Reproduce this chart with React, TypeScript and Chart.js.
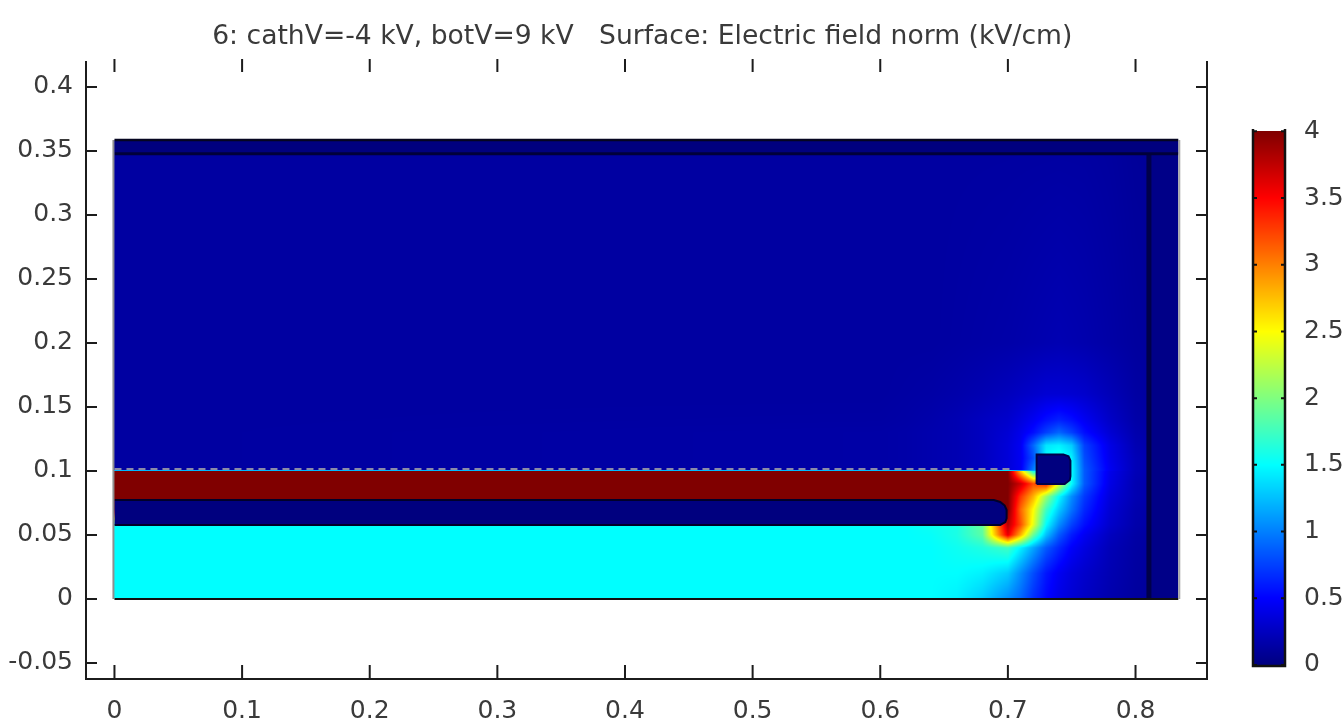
import React, { useEffect, useRef } from "react";
import { Chart, registerables } from "chart.js";

Chart.register(...registerables);

const titleText = "6: cathV=-4 kV, botV=9 kV   Surface: Electric field norm (kV/cm) ";
const xTicks = [0, 0.1, 0.2, 0.3, 0.4, 0.5, 0.6, 0.7, 0.8];
const yTicks = [-0.05, 0, 0.05, 0.1, 0.15, 0.2, 0.25, 0.3, 0.35, 0.4];
const barTicks = [0, 0.5, 1, 1.5, 2, 2.5, 3, 3.5, 4];

// Field norm (kV/cm) at these nodes
const fieldX = [0, 0.6, 0.62, 0.64, 0.66, 0.68, 0.7, 0.71, 0.72, 0.73, 0.74, 0.75, 0.76, 0.78, 0.8, 0.835];
const fieldY = [0, 0.02, 0.04, 0.05, 0.058, 0.07, 0.08, 0.09, 0.1, 0.1005, 0.11, 0.12, 0.13, 0.14, 0.16, 0.2, 0.36];
const fieldRows = [
  [1.5, 1.5, 1.5, 1.5, 1.45, 1.3, 1.05, 0.9, 0.68, 0.52, 0.4, 0.33, 0.27, 0.18, 0.12, 0.08],
  [1.5, 1.5, 1.5, 1.5, 1.5, 1.45, 1.3, 1.05, 0.8, 0.58, 0.45, 0.36, 0.3, 0.2, 0.13, 0.08],
  [1.5, 1.5, 1.5, 1.5, 1.55, 1.62, 1.75, 1.45, 1.15, 0.85, 0.65, 0.48, 0.38, 0.22, 0.14, 0.09],
  [1.5, 1.5, 1.5, 1.52, 1.6, 1.85, 3.6, 2.8, 1.9, 1.25, 0.85, 0.6, 0.45, 0.25, 0.15, 0.09],
  [1.5, 1.5, 1.5, 1.55, 1.6, 1.9, 3.8, 3.2, 2.4, 1.5, 1.05, 0.75, 0.55, 0.3, 0.17, 0.1],
  [4, 4, 4, 4, 4, 4, 4, 3.1, 2.5, 1.75, 1.3, 0.95, 0.65, 0.33, 0.18, 0.1],
  [4, 4, 4, 4, 4, 4, 4, 3.3, 2.8, 2.1, 1.5, 1.05, 0.72, 0.36, 0.2, 0.1],
  [4, 4, 4, 4, 4, 4, 4, 3.7, 3.2, 3.4, 2.4, 1.5, 0.85, 0.4, 0.2, 0.1],
  [4, 4, 4, 4, 4, 4, 4, 2.7, 1.5, 1.6, 1.6, 1.5, 0.85, 0.42, 0.22, 0.1],
  [0.13, 0.15, 0.16, 0.18, 0.2, 0.25, 0.35, 0.45, 1.0, 1.6, 1.6, 1.5, 0.85, 0.45, 0.22, 0.1],
  [0.13, 0.15, 0.16, 0.18, 0.2, 0.25, 0.35, 0.45, 0.8, 1.5, 1.6, 1.45, 0.8, 0.42, 0.22, 0.1],
  [0.13, 0.15, 0.16, 0.18, 0.2, 0.25, 0.35, 0.45, 0.9, 1.4, 1.45, 1.3, 0.75, 0.4, 0.2, 0.1],
  [0.13, 0.15, 0.16, 0.18, 0.2, 0.25, 0.33, 0.42, 0.55, 0.75, 0.9, 0.75, 0.55, 0.33, 0.18, 0.1],
  [0.13, 0.14, 0.15, 0.17, 0.2, 0.25, 0.3, 0.37, 0.45, 0.55, 0.62, 0.55, 0.45, 0.28, 0.16, 0.1],
  [0.13, 0.13, 0.14, 0.15, 0.17, 0.2, 0.24, 0.27, 0.3, 0.33, 0.33, 0.32, 0.3, 0.22, 0.14, 0.1],
  [0.13, 0.13, 0.13, 0.13, 0.14, 0.15, 0.16, 0.17, 0.18, 0.19, 0.2, 0.19, 0.18, 0.15, 0.12, 0.1],
  [0.13, 0.13, 0.13, 0.13, 0.13, 0.13, 0.13, 0.13, 0.13, 0.13, 0.13, 0.13, 0.13, 0.12, 0.1, 0.09],
];

// Geometry of the model, in plot units
const domainRight = 0.8335;
const domainTop = 0.3586;
const gapOutline = [
  { x: 0, y: 0.0578 }, { x: 0.694, y: 0.0578 }, { x: 0.698, y: 0.06 }, { x: 0.699, y: 0.063 },
  { x: 0.699, y: 0.0695 }, { x: 0.6975, y: 0.073 }, { x: 0.694, y: 0.0758 }, { x: 0.689, y: 0.0773 },
  { x: 0, y: 0.0773 },
];
const gapShape = [...gapOutline, { x: 0, y: 0.0578 }];
const wireShape = [
  { x: 0.7225, y: 0.0898 }, { x: 0.7445, y: 0.0898 }, { x: 0.7485, y: 0.093 }, { x: 0.749, y: 0.096 },
  { x: 0.749, y: 0.108 }, { x: 0.7475, y: 0.1115 }, { x: 0.7435, y: 0.1128 }, { x: 0.7225, y: 0.1128 },
  { x: 0.7225, y: 0.0898 },
];
const topBand = [
  { x: 0, y: 0.3477 }, { x: domainRight, y: 0.3477 }, { x: domainRight, y: domainTop }, { x: 0, y: domainTop }, { x: 0, y: 0.3477 },
];
const sideBand = [
  { x: 0.8105, y: 0 }, { x: domainRight, y: 0 }, { x: domainRight, y: domainTop }, { x: 0.8105, y: domainTop }, { x: 0.8105, y: 0 },
];
const sideLine = [{ x: 0.8105, y: 0 }, { x: 0.8105, y: 0.3477 }];
const topLines = [{ x: 0, y: domainTop }, { x: domainRight, y: domainTop }];
const bandLine = [{ x: 0, y: 0.3477 }, { x: domainRight, y: 0.3477 }];
const bottomLine = [{ x: 0, y: 0 }, { x: domainRight, y: 0 }];
const leftEdge = [{ x: -0.0008, y: 0 }, { x: -0.0008, y: domainTop }];
const rightEdge = [{ x: domainRight + 0.0008, y: 0 }, { x: domainRight + 0.0008, y: domainTop }];
const dashedEdge = [{ x: 0, y: 0.1015 }, { x: 0.705, y: 0.1015 }];

const TICK_FONT = { family: "'DejaVu Sans'", size: 25 };
const TITLE_FONT = { family: "'DejaVu Sans'", size: 26.6, weight: "normal" };
const TEXT = "#3a3a3a";
const LINE = "#1c1c1c";

const clamp = (v: number) => Math.max(0, Math.min(1, v));
function jet(v: number): [number, number, number] {
  const t = clamp(v / 4);
  return [
    255 * clamp(1.5 - Math.abs(4 * t - 3)),
    255 * clamp(1.5 - Math.abs(4 * t - 2)),
    255 * clamp(1.5 - Math.abs(4 * t - 1)),
  ];
}
function locate(nodes: number[], v: number) {
  let i = 0;
  while (i < nodes.length - 2 && v > nodes[i + 1]) i++;
  return [i, clamp((v - nodes[i]) / (nodes[i + 1] - nodes[i]))];
}
function fieldAt(x: number, y: number) {
  const [i, u] = locate(fieldX, x);
  const [j, w] = locate(fieldY, y);
  const a = fieldRows[j][i] * (1 - u) + fieldRows[j][i + 1] * u;
  const b = fieldRows[j + 1][i] * (1 - u) + fieldRows[j + 1][i + 1] * u;
  return a * (1 - w) + b * w;
}

const fieldPlugin = {
  id: "fieldSurface",
  beforeDatasetsDraw(chart: any) {
    const { x, y } = chart.scales;
    const x0 = Math.round(x.getPixelForValue(0));
    const x1 = Math.round(x.getPixelForValue(domainRight));
    const y0 = Math.round(y.getPixelForValue(domainTop));
    const y1 = Math.round(y.getPixelForValue(0));
    const w = x1 - x0;
    const h = y1 - y0;
    const img = chart.ctx.createImageData(w, h);
    for (let r = 0; r < h; r++) {
      const vy = y.getValueForPixel(y0 + r + 0.5);
      for (let c = 0; c < w; c++) {
        const [R, G, B] = jet(fieldAt(x.getValueForPixel(x0 + c + 0.5), vy));
        const k = (r * w + c) * 4;
        img.data[k] = R;
        img.data[k + 1] = G;
        img.data[k + 2] = B;
        img.data[k + 3] = 255;
      }
    }
    chart.ctx.putImageData(img, x0, y0);
  },
  afterDraw(chart: any) {
    const { ctx, chartArea } = chart;
    const { x, y, cb } = chart.scales;
    ctx.save();
    ctx.strokeStyle = LINE;
    ctx.lineWidth = 2;
    // inward tick marks on all four sides of the frame
    ctx.beginPath();
    for (const t of x.ticks) {
      const px = x.getPixelForValue(t.value);
      ctx.moveTo(px, chartArea.bottom);
      ctx.lineTo(px, chartArea.bottom - 14);
      ctx.moveTo(px, chartArea.top - 3);
      ctx.lineTo(px, chartArea.top + 10);
    }
    for (const t of y.ticks) {
      const py = y.getPixelForValue(t.value);
      ctx.moveTo(chartArea.left, py);
      ctx.lineTo(chartArea.left + 11, py);
      ctx.moveTo(chartArea.right, py);
      ctx.lineTo(chartArea.right - 11, py);
    }
    ctx.stroke();
    // colour bar, coloured through its own scale
    const left = chartArea.right + 47;
    const right = chartArea.right + 77;
    const top = Math.round(cb.getPixelForValue(4));
    const bottom = Math.round(cb.getPixelForValue(0));
    for (let p = top; p < bottom; p++) {
      const [R, G, B] = jet(cb.getValueForPixel(p + 0.5));
      ctx.fillStyle = `rgb(${R},${G},${B})`;
      ctx.fillRect(left, p, right - left, 1);
    }
    ctx.lineWidth = 2.5;
    ctx.strokeStyle = "#111";
    ctx.beginPath();
    ctx.moveTo(left - 1, top - 2);
    ctx.lineTo(left - 1, bottom + 1);
    ctx.lineTo(right + 1, bottom + 1);
    ctx.lineTo(right + 1, top - 2);
    ctx.stroke();
    ctx.lineWidth = 2;
    ctx.beginPath();
    for (const v of barTicks) {
      const p = cb.getPixelForValue(v);
      ctx.moveTo(left, p);
      ctx.lineTo(left + 3, p);
      ctx.moveTo(right, p);
      ctx.lineTo(right - 3, p);
    }
    ctx.stroke();
    ctx.restore();
  },
};

const shape = (data: any[], color: string, edge = "rgba(0,0,0,0)", width = 0) => ({
  type: "scatter",
  data,
  showLine: true,
  fill: "shape",
  backgroundColor: color,
  borderColor: edge,
  borderWidth: width,
  pointRadius: 0,
  tension: 0,
});
const stroke = (data: any[], color: string, width: number, dash: number[] = []) => ({
  type: "scatter",
  data,
  showLine: true,
  fill: false,
  borderColor: color,
  borderWidth: width,
  borderDash: dash,
  pointRadius: 0,
  tension: 0,
});

const fixedTicks = (values: number[]) => (scale: any) => {
  scale.ticks = values.map((value) => ({ value }));
};
const label = (v: any) => String(v);
const fitWidth = (width: number) => (s: any) => {
  s.width = width;
  s.paddingTop = 0;
  s.paddingBottom = 0;
  s.paddingLeft = 0;
  s.paddingRight = 0;
};

export default function App() {
  const ref = useRef<HTMLCanvasElement>(null);
  useEffect(() => {
    const chart = new Chart(ref.current as HTMLCanvasElement, {
      type: "scatter",
      data: {
        // Chart.js paints the first dataset last, so the lines come first
        datasets: [
          stroke(dashedEdge, "#8a8aa8", 2, [7, 5]),
          stroke(rightEdge, "#a8a8a8", 2),
          stroke(leftEdge, "#8f8f8f", 2),
          stroke(bottomLine, "#101010", 2),
          stroke(bandLine, "#00003a", 3),
          stroke(topLines, "#050520", 2.5),
          stroke(sideLine, "#00004a", 5),
          stroke(gapOutline, "#00002a", 2),
          shape(wireShape, "#00007f", "#00004a", 2),
          shape(gapShape, "#00007f"),
          shape(topBand, "#00007f"),
          shape(sideBand, "#000088"),
        ] as any,
      },
      plugins: [fieldPlugin as any],
      options: {
        animation: false,
        responsive: false,
        layout: { padding: 0 },
        plugins: {
          legend: { display: false },
          tooltip: { enabled: false },
          title: {
            display: true,
            text: titleText,
            color: TEXT,
            fullSize: false,
            font: TITLE_FONT,
            padding: { top: 21, bottom: 9 },
          },
        },
        scales: {
          x: {
            type: "linear",
            min: -0.0223,
            max: 0.856,
            grid: { display: false, drawTicks: false },
            border: { display: true, color: LINE, width: 2 },
            afterBuildTicks: fixedTicks(xTicks),
            afterFit: (s: any) => {
              s.height = 43;
              s.paddingLeft = 0;
              s.paddingRight = 0;
            },
            ticks: { callback: label, font: TICK_FONT, color: TEXT, padding: 17, autoSkip: false, maxRotation: 0 },
          },
          y: {
            type: "linear",
            min: -0.0625,
            max: 0.4195,
            grid: { display: false, drawTicks: false },
            border: { display: true, color: LINE, width: 2 },
            afterBuildTicks: fixedTicks(yTicks),
            afterFit: fitWidth(86),
            ticks: { callback: label, font: TICK_FONT, color: TEXT, padding: 13, autoSkip: false },
          },
          cb: {
            type: "linear",
            position: "right",
            min: -0.105,
            max: 4.52,
            grid: { display: false, drawTicks: false },
            border: { display: true, color: LINE, width: 2 },
            afterBuildTicks: fixedTicks(barTicks),
            afterFit: fitWidth(135),
            ticks: { callback: label, font: TICK_FONT, color: TEXT, padding: 97, autoSkip: false },
          },
        },
      } as any,
    });
    return () => chart.destroy();
  }, []);
  return (
    <canvas
      ref={ref}
      width={1342}
      height={722}
      style={{ position: "fixed", left: 0, top: 0, display: "block", background: "#fff", filter: "blur(0.6px)" }}
    />
  );
}
